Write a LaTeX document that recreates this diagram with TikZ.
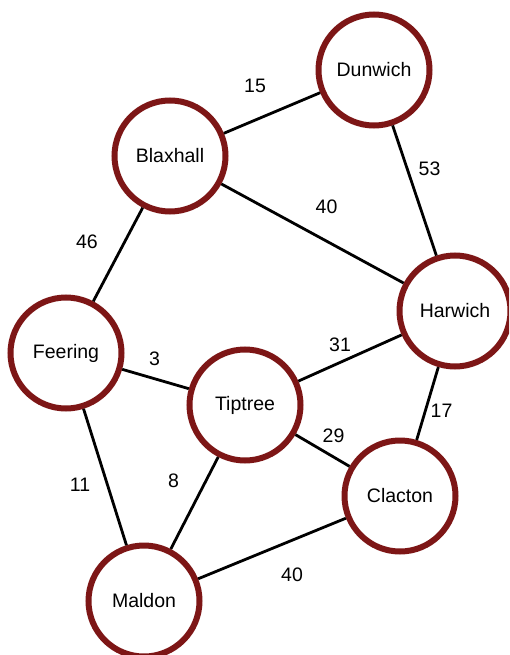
\documentclass[tikz,border=0pt]{standalone}
\usepackage{fontspec}
\setmainfont{Liberation Sans}
\usepackage{tikz}
\usetikzlibrary{positioning}
\definecolor{tkRim}{RGB}{125,22,22}

\begin{document}
\begin{tikzpicture}[
  x=1pt, y=-1pt,
  font=\fontsize{19.5}{23}\selectfont,
  town/.style={circle, draw=tkRim, line width=6pt, fill=white, minimum size=111pt, inner sep=0pt},
  road/.style={line width=2.8pt, black},
  dist/.style={inner sep=0pt},
]
\clip (0,0) rectangle (509,655);
% towns
\node[town] (dunwich) at (374,70) {Dunwich};
\node[town] (blaxhall) at (170,156) {Blaxhall};
\node[town] (harwich) at (455,311) {Harwich};
\node[town] (feering) at (66,353) {Feering};
\node[town] (tiptree) at (245,405) {Tiptree};
\node[town] (clacton) at (400,496) {Clacton};
\node[town] (maldon) at (144,601) {Maldon};
% roads
\draw[road] (blaxhall) -- node[dist, shift={(-17,-27)}] {15} (dunwich);
\draw[road] (dunwich) -- node[dist, shift={(15,-22)}] {53} (harwich);
\draw[road] (blaxhall) -- node[dist, shift={(14,-27)}] {40} (harwich);
\draw[road] (blaxhall) -- node[dist, shift={(-31,-13)}] {46} (feering);
\draw[road] (feering) -- node[dist, shift={(-1,-20)}] {3} (tiptree);
\draw[road] (tiptree) -- node[dist, shift={(-10,-13)}] {31} (harwich);
\draw[road] (harwich) -- node[dist, shift={(14,7)}] {17} (clacton);
\draw[road] (tiptree) -- node[dist, shift={(11,-15)}] {29} (clacton);
\draw[road] (feering) -- node[dist, shift={(-25,8)}] {11} (maldon);
\draw[road] (tiptree) -- node[dist, shift={(-21,-22)}] {8} (maldon);
\draw[road] (maldon) -- node[dist, shift={(20,26)}] {40} (clacton);
\end{tikzpicture}
\end{document}
